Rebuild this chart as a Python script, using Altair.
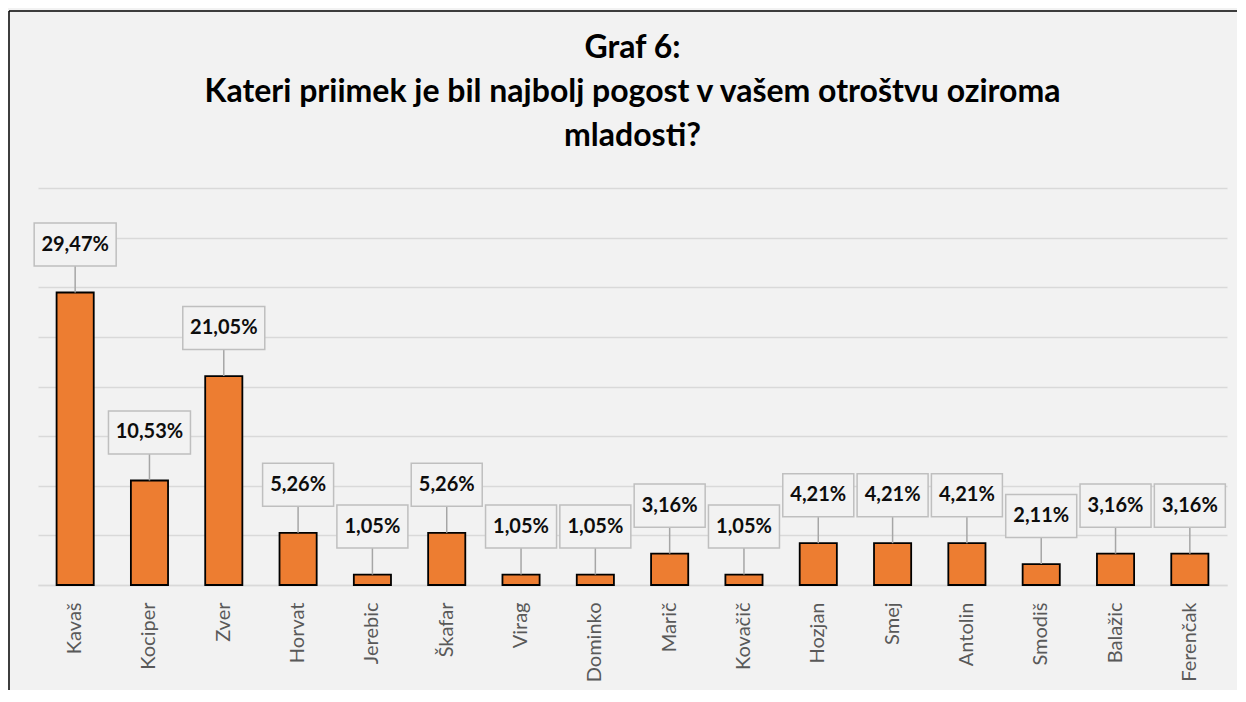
import altair as alt
import pandas as pd

names = ["Kavaš", "Kociper", "Zver", "Horvat", "Jerebic", "Škafar", "Virag", "Dominko",
         "Marič", "Kovačič", "Hozjan", "Smej", "Antolin", "Smodiš", "Balažic", "Ferenčak"]
values = [29.47, 10.53, 21.05, 5.26, 1.05, 5.26, 1.05, 1.05,
          3.16, 1.05, 4.21, 4.21, 4.21, 2.11, 3.16, 3.16]
grid_ticks = [0, 5, 10, 15, 20, 25, 30, 35, 40]
title_lines = ["Graf 6:", "Kateri priimek je bil najbolj pogost v vašem otroštvu oziroma", "mladosti?"]

df = pd.DataFrame({"name": names, "value": values})
one = pd.DataFrame({"k": [0]})

FONT = "Lato"
W, H = 1189, 397
LIFT = 48

x_enc = alt.X("name:N", sort=names, title=None,
              scale=alt.Scale(paddingInner=0.5, paddingOuter=0.25),
              axis=alt.Axis(labelAngle=270, labelFont=FONT, labelFontSize=20,
                            labelColor="#595959", labelPadding=17, ticks=False,
                            domainColor="#d9d9d9", domainWidth=1.5, labelLimit=200))
y_enc = alt.Y("value:Q", title=None,
              scale=alt.Scale(domain=[0, 40], nice=False),
              axis=alt.Axis(values=grid_ticks, labels=False, ticks=False, domain=False,
                            grid=True, gridColor="#d9d9d9", gridWidth=1.5))

base = alt.Chart(df).transform_calculate(
    label="replace(format(datum.value, '.2f'), '.', ',') + '%'",
    wide="length(replace(format(datum.value, '.2f'), '.', ',')) > 4"
)

frame_left = alt.Chart(one).mark_rule(color="black", strokeWidth=1.5).encode(
    x=alt.value(-29), y=alt.value(-177), y2=alt.value(700)
)
frame_top = alt.Chart(one).mark_rule(color="black", strokeWidth=1.5).encode(
    x=alt.value(-29), x2=alt.value(1260), y=alt.value(-177)
)

title = alt.Chart(one).mark_text(
    text=title_lines, font=FONT, fontSize=32, fontWeight="bold", color="#000000",
    align="center", baseline="alphabetic", lineHeight=44
).encode(x=alt.value(W / 2), y=alt.value(-130))

bars = base.mark_bar(color="#ed7d31", stroke="black", strokeWidth=1.8).encode(
    x=x_enc, y=y_enc
)

leaders = base.mark_rule(color="#a6a6a6", strokeWidth=1.5, y2Offset=-(LIFT - 21)).encode(
    x=alt.X("name:N", sort=names),
    y="value:Q", y2="value:Q"
)

path_wide = "M-1,-0.524L1,-0.524L1,0.524L-1,0.524Z"
path_narrow = "M-1,-0.606L1,-0.606L1,0.606L-1,0.606Z"

boxes = base.mark_point(filled=True, fill="#f2f2f2", stroke="#bfbfbf", strokeWidth=1.5,
                        opacity=1, yOffset=-LIFT).encode(
    x=alt.X("name:N", sort=names),
    y="value:Q",
    shape=alt.condition("datum.wide", alt.value(path_wide), alt.value(path_narrow)),
    size=alt.condition("datum.wide", alt.value(82 * 82), alt.value(71 * 71)),
)

labels = base.mark_text(font=FONT, fontSize=20, fontWeight="bold", color="#0d0d0d",
                        baseline="middle", yOffset=-LIFT).encode(
    x=alt.X("name:N", sort=names),
    y="value:Q",
    text="label:N",
)

chart = alt.layer(frame_left, frame_top, title, bars, leaders, boxes, labels).properties(
    width=W, height=H,
    padding={"left": 30, "top": 180, "right": 10, "bottom": 105},
    autosize=alt.AutoSizeParams(type="none"),
    background="#f2f2f2",
).configure_view(stroke=None, fill=None)

chart.save("out.html", embed_options={"renderer": "svg", "actions": False})
